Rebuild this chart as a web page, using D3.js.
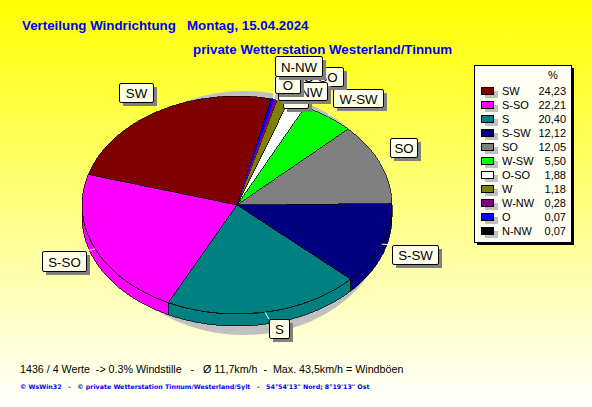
<!DOCTYPE html>
<html><head><meta charset="utf-8">
<script src="https://cdn.jsdelivr.net/npm/d3@7"></script>
<style>
html,body{margin:0;padding:0;background:#fff}
svg{display:block}
text{font-family:"Liberation Sans",Arial,sans-serif;white-space:pre}
</style></head><body>
<svg id="c" width="592" height="407"></svg>
<script>
const directions = ["SW","S-SO","S","S-SW","SO","W-SW","O-SO","W","W-NW","O","N-NW"];
const percents = [24.23,22.21,20.40,12.12,12.05,5.50,1.88,1.18,0.28,0.07,0.07];
const colors = ["#800000","#ff00ff","#008080","#000080","#808080","#00ff00","#ffffff","#808000","#800080","#0000ff","#000000"];
const titleMain = "Verteilung Windrichtung   Montag, 15.04.2024";
const titleSub = "private Wetterstation Westerland/Tinnum";
const footerStats = "1436 / 4 Werte  -> 0.3% Windstille   -   Ø 11,7km/h  -  Max. 43,5km/h = Windböen";
const footerCredit = "© WsWin32   -   © private Wetterstation Tinnum/Westerland/Sylt   -   54°54'13\" Nord; 8°19'13\" Ost";
// label box layout [x, y, w, h], same order as directions
const labelBoxes = [[119,83,34,19],[42,251,44,20],[269,319,20,19],[392,245,46,19],[390,138,27,19],[333,89,50,18],[297,67,46,19],[283,89,25,19],[278,82,49,18],[275,76,25,17],[275,56,47,20]];

const cx=237, cy=205, rx=155, ry=109, depth=12, startDeg=13.5, minShare=0.3;
const svg=d3.select("#c");
const grad=svg.append("defs").append("linearGradient").attr("id","bg").attr("x1",0).attr("x2",0).attr("y1",0).attr("y2",1);
grad.append("stop").attr("offset",0).attr("stop-color","#ffff00");
grad.append("stop").attr("offset",1).attr("stop-color","#ffffff");
svg.append("rect").attr("width",592).attr("height",407).attr("fill","url(#bg)");

svg.append("text").attr("x",22).attr("y",30).attr("fill","#0000ff").attr("font-weight","bold").attr("font-size",13.33).text(titleMain);
svg.append("text").attr("x",193).attr("y",54).attr("fill","#0000ff").attr("font-weight","bold").attr("font-size",13.33).text(titleSub);

// pie shadow
svg.append("ellipse").attr("cx",244).attr("cy",213).attr("rx",145).attr("ry",122).attr("fill","#c0c0c0");

const toRad=Math.PI/180;
const slices=d3.pie().sort(null).value(d=>d.v)
  .startAngle(startDeg*toRad).endAngle((startDeg-360)*toRad)(directions.map((n,i)=>({n,v:percents[i],c:colors[i]})));
const px=a=>cx+rx*Math.sin(a), py=a=>cy-ry*Math.cos(a);

// side wall: visible front half, angles PI/2..3PI/2
const pieG=svg.append("g").attr("shape-rendering","crispEdges");
const line=d3.line();
slices.forEach(s=>{
  const tau=2*Math.PI;
  let hi=s.startAngle, lo=s.endAngle;
  while(lo<0){lo+=tau;hi+=tau;}
  const a=Math.max(lo,Math.PI/2), b=Math.min(hi,3*Math.PI/2);
  if(b<=a) return;
  const angs=d3.range(a,b,toRad/2).concat([b]);
  const pts=angs.map(t=>[px(t),py(t)]).concat(angs.slice().reverse().map(t=>[px(t),py(t)+depth]));
  pieG.append("path").attr("d",line(pts)+"Z").attr("fill",s.data.c).attr("stroke","#000").attr("stroke-width",0.7);
});
// top surface; hairline slices keep a visible minimum width, growing over the neighbouring SW slice
const arc=d3.arc().innerRadius(0).outerRadius(1);
const faces=pieG.append("g");
let thinEdge=null;
slices.forEach((s,i)=>{
  const thin=s.data.v<1;
  let d=s;
  if(thin){
    const from=thinEdge===null?s.startAngle:thinEdge;
    const share=i===slices.length-1?s.data.v:Math.max(s.data.v,minShare);
    const to=from-share/100*2*Math.PI;
    thinEdge=to;
    d={startAngle:from,endAngle:to};
  }
  faces.append("path").attr("d",arc(d)).attr("transform",`translate(${cx},${cy}) scale(${rx},${ry})`)
    .attr("fill",s.data.c).attr("stroke",thin?"none":"#000").attr("stroke-width",0.7).attr("vector-effect","non-scaling-stroke");
});

// leaders + label boxes
const labels=svg.append("g");
slices.forEach((s,i)=>{
  const m=(s.startAngle+s.endAngle)/2, [x,y,w,h]=labelBoxes[i];
  const x0=px(m), y0=py(m);
  labels.append("line").attr("x1",x0).attr("y1",y0)
    .attr("x2",Math.max(x,Math.min(x+w,x0))).attr("y2",Math.max(y,Math.min(y+h,y0)))
    .attr("stroke","#ffffff").attr("stroke-width",1);
});
slices.forEach((s,i)=>{
  const [x,y,w,h]=labelBoxes[i];
  labels.append("rect").attr("x",x+4).attr("y",y+4).attr("width",w).attr("height",h).attr("fill","#808080");
  labels.append("rect").attr("x",x+.5).attr("y",y+.5).attr("width",w).attr("height",h).attr("rx",1.5).attr("fill","#ffffe8").attr("stroke","#000");
  labels.append("text").attr("x",x+w/2+.5).attr("y",y+h/2+5.5).attr("text-anchor","middle").attr("font-size",13.3).attr("fill","#000").text(s.data.n);
});

// legend
const lg=svg.append("g");
lg.append("rect").attr("x",477).attr("y",68).attr("width",97).attr("height",177).attr("fill","#000");
lg.append("rect").attr("x",474.5).attr("y",65.5).attr("width",97).attr("height",177).attr("fill","#fffff4").attr("stroke","#000");
lg.append("text").attr("x",553).attr("y",79).attr("text-anchor","middle").attr("font-size",11).text("%");
const rowY=d3.scalePoint().domain(directions).range([91,231]);
const fmt=d3.formatLocale({decimal:",",thousands:".",grouping:[3],currency:["",""]}).format(".2f");
directions.forEach((n,i)=>{
  const y=rowY(n);
  lg.append("rect").attr("x",485).attr("y",y).attr("width",13).attr("height",7).attr("fill","#c0c0c0");
  lg.append("rect").attr("x",481.5).attr("y",y-3.5).attr("width",12).attr("height",7).attr("fill",colors[i]).attr("stroke","#000");
  lg.append("text").attr("x",502).attr("y",y+4).attr("font-size",11).text(n);
  lg.append("text").attr("x",566).attr("y",y+4).attr("text-anchor","end").attr("font-size",11).text(fmt(percents[i]));
});

svg.append("text").attr("x",20).attr("y",373).attr("font-size",10.7).attr("fill","#000").text(footerStats);
svg.append("text").attr("x",20).attr("y",389).attr("font-size",6.3).attr("font-weight","bold").attr("fill","#0000ff")
  .style("font-family","'DejaVu Sans',sans-serif").text(footerCredit);
</script>
</body></html>
